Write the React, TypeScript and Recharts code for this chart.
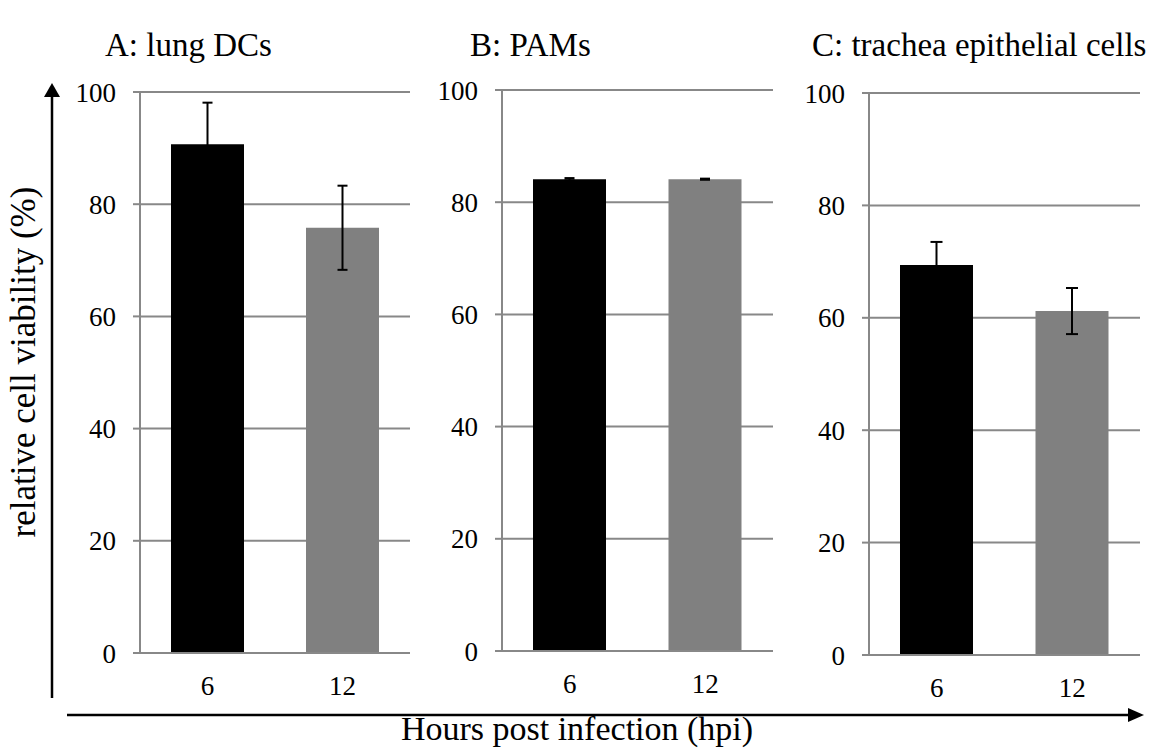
import { BarChart, Bar, XAxis, YAxis, CartesianGrid, Cell, ErrorBar } from "recharts";

const hours = ["6", "12"];
const lungDCs = [90.7, 75.8];
const lungDCsErr = [7.4, 7.5];
const pams = [84.1, 84.1];
const pamsErr = [0.2, 0.1];
const trachea = [69.4, 61.2];
const tracheaErr = [4.1, 4.1];
const yTicks = [0, 20, 40, 60, 80, 100];
const barColors = ["#000000", "#808080"];

const FONT = "Times New Roman, Liberation Serif, DejaVu Serif, serif";
const GRID = "#888888";
const tickStyle = { fontFamily: FONT, fontSize: 27, fill: "#000" };

type PanelProps = {
  values: number[];
  errors: number[];
  left: number;
  width: number;
  axisWidth: number;
  marginTop: number;
  marginRight: number;
  xAxisHeight: number;
  capWidth: number;
};

function Panel({ values, errors, left, width, axisWidth, marginTop, marginRight, xAxisHeight, capWidth }: PanelProps) {
  const rows = hours.map((h, i) => ({ hour: h, value: values[i], err: errors[i] }));
  return (
    <div style={{ position: "absolute", left, top: 70, fontFamily: FONT }}>
      <BarChart
        width={width}
        height={640}
        data={rows}
        margin={{ top: marginTop, right: marginRight, bottom: 0, left: 0 }}
        style={{ fontFamily: FONT }}
      >
        <CartesianGrid vertical={false} stroke={GRID} strokeWidth={2} />
        <XAxis
          dataKey="hour"
          height={xAxisHeight}
          axisLine={{ stroke: GRID, strokeWidth: 2 }}
          tickLine={false}
          tickSize={0}
          tickMargin={23}
          tick={tickStyle}
        />
        <YAxis
          width={axisWidth}
          domain={[0, 100]}
          ticks={yTicks}
          axisLine={{ stroke: GRID, strokeWidth: 2 }}
          tickLine={{ stroke: GRID, strokeWidth: 2 }}
          tickSize={7}
          tickMargin={17}
          tick={tickStyle}
        />
        <Bar dataKey="value" barSize={73} isAnimationActive={false}>
          {rows.map((r, i) => (
            <Cell key={r.hour} fill={barColors[i]} />
          ))}
          <ErrorBar dataKey="err" direction="y" width={capWidth} stroke="#000" strokeWidth={2} />
        </Bar>
      </BarChart>
    </div>
  );
}

export default function App() {
  return (
    <div style={{ position: "absolute", left: 0, top: 0, width: 1158, height: 751, background: "#fff", fontFamily: FONT }}>
      <Panel values={lungDCs} errors={lungDCsErr} left={40} width={380} axisWidth={100} marginTop={22} marginRight={10} xAxisHeight={57} capWidth={5} />
      <Panel values={pams} errors={pamsErr} left={420} width={360} axisWidth={82} marginTop={20} marginRight={7} xAxisHeight={59} capWidth={5} />
      <Panel values={trachea} errors={tracheaErr} left={780} width={378} axisWidth={89} marginTop={23} marginRight={18} xAxisHeight={55} capWidth={6} />
      <svg width={1158} height={751} style={{ position: "absolute", left: 0, top: 0, pointerEvents: "none" }}>
        <g fill="#000" fontFamily={FONT}>
          <text x={105} y={56} fontSize={33}>A: lung DCs</text>
          <text x={470} y={56} fontSize={33}>B: PAMs</text>
          <text x={812} y={56} fontSize={33}>C: trachea epithelial cells</text>
          <text x={577} y={740} fontSize={34} textAnchor="middle">Hours post infection (hpi)</text>
          <text transform="translate(35,362) rotate(-90)" fontSize={35} textAnchor="middle">relative cell viability (%)</text>
        </g>
        <line x1={52} y1={698} x2={52} y2={95} stroke="#000" strokeWidth={2.5} />
        <polygon points="52,83 44,97 60,97" fill="#000" />
        <line x1={67} y1={715} x2={1130} y2={715} stroke="#000" strokeWidth={2.5} />
        <polygon points="1144,715 1128,708 1128,722" fill="#000" />
      </svg>
    </div>
  );
}
